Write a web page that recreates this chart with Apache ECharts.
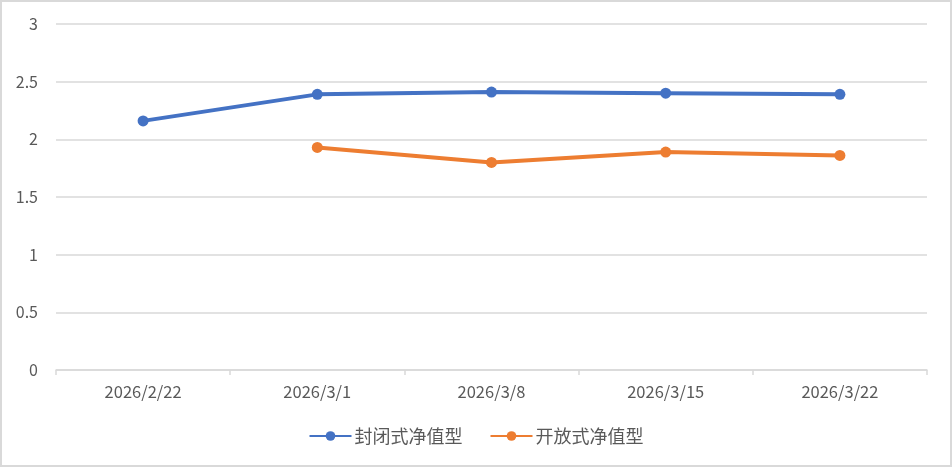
<!DOCTYPE html>
<html>
<head>
<meta charset="utf-8">
<script src="https://cdn.jsdelivr.net/npm/echarts@6/dist/echarts.min.js"></script>
<style>
html,body{margin:0;padding:0;background:#fff;}
#wrap{position:relative;width:952px;height:467px;}
#chart{position:absolute;left:0;top:0;width:952px;height:467px;}
#border{position:absolute;left:0;top:0;width:952px;height:467px;box-sizing:border-box;border:2px solid #d9d9d9;pointer-events:none;}
</style>
</head>
<body>
<div id="wrap"><div id="chart"></div><div id="border"></div></div>
<script>
const categories = ['2026/2/22', '2026/3/1', '2026/3/8', '2026/3/15', '2026/3/22'];
const closedName = '封闭式净值型';
const openName = '开放式净值型';
const closedValues = [2.16, 2.39, 2.41, 2.40, 2.39];
const openValues = [null, 1.93, 1.80, 1.89, 1.86];

const font = '"Noto Sans CJK SC", "Noto Sans", sans-serif';
const chart = echarts.init(document.getElementById('chart'), null, {renderer: 'canvas'});
chart.setOption({
  animation: false,
  backgroundColor: '#fff',
  textStyle: {fontFamily: font},
  grid: {left: 56, right: 25, top: 24, bottom: 97, containLabel: false},
  legend: {
    bottom: 17,
    left: 'center',
    itemWidth: 42,
    itemHeight: 12,
    itemGap: 27,
    textStyle: {color: '#595959', fontSize: 18, fontFamily: font, padding: [0, 0, 0, -2]},
    data: [closedName, openName]
  },
  xAxis: {
    type: 'category',
    data: categories,
    boundaryGap: true,
    axisLine: {lineStyle: {color: '#d9d9d9', width: 1.5}},
    axisTick: {show: true, length: 5, lineStyle: {color: '#d9d9d9', width: 1.5}},
    axisLabel: {color: '#595959', fontSize: 16.5, margin: 13, fontFamily: font}
  },
  yAxis: {
    type: 'value',
    min: 0,
    max: 3,
    interval: 0.5,
    axisLine: {show: false},
    axisTick: {show: false},
    splitLine: {lineStyle: {color: '#d9d9d9', width: 1.5}},
    axisLabel: {color: '#595959', fontSize: 16, margin: 18, fontFamily: font}
  },
  series: [
    {
      name: closedName,
      type: 'line',
      data: closedValues,
      symbol: 'circle',
      symbolSize: 11,
      color: '#4472C4',
      lineStyle: {width: 4, color: '#4472C4'},
      itemStyle: {color: '#4472C4'}
    },
    {
      name: openName,
      type: 'line',
      data: openValues,
      symbol: 'circle',
      symbolSize: 11,
      color: '#ED7D31',
      lineStyle: {width: 4, color: '#ED7D31'},
      itemStyle: {color: '#ED7D31'}
    }
  ]
});
</script>
</body>
</html>
